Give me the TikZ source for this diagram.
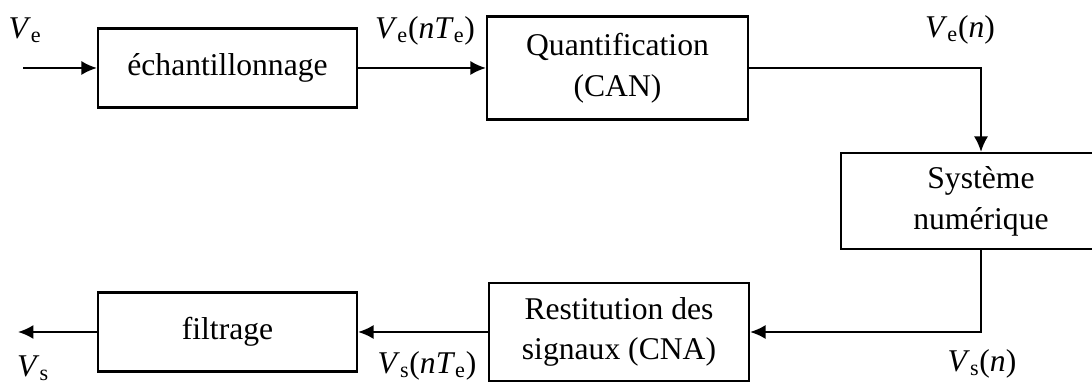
\documentclass[tikz,border=0pt]{standalone}
\usepackage{fontspec}
\setmainfont{Liberation Serif}
\usetikzlibrary{arrows.meta}
\tikzstyle{block} = [rectangle, minimum width=6.475cm, minimum height=1.975cm, inner sep=0pt, text centered, align=center, draw=black, line width=1.5pt]
\tikzstyle{sig} = [inner sep=0pt]
\tikzstyle{arrow} = [line width=1.5pt, ->, >={Latex[length=11pt,width=10pt]}]
\newcommand{\sv}[2]{\textit{#1}\textsubscript{#2}}

\begin{document}
\begin{tikzpicture}[x=0.025cm, y=-0.025cm, font=\fontsize{22.5}{29}\selectfont]
		\clip (0,0) rectangle (1092,385);
		\node [block] at (227.5,68) 								(samp)		{échantillonnage};
		\node [block, minimum width=6.525cm, minimum height=2.575cm] at (617.5,68) 	(quant)		{Quantification\\(CAN)};
		\node [block, minimum width=7cm, minimum height=2.4cm] at (981,201) 		(sysnum)	{Système\\numérique};
		\node [block, minimum width=6.5cm, minimum height=2.45cm] at (619,332) 		(restit)	{Restitution des\\signaux (CNA)};
		\node [block] at (227.5,332) 								(filtr)		{filtrage};
		\coordinate (in)  at (23,68);
		\coordinate (out) at (18,332);

		\node [sig] at (25,30)   (ve)	{\sv{V}{e}};
		\node [sig] at (425,31)  (vent)	{\sv{V}{e}(\textit{n}\sv{T}{e})};
		\node [sig] at (960,30)  (ven)	{\sv{V}{e}(\textit{n})};
		\node [sig] at (982,364) (vsn)	{\sv{V}{s}(\textit{n})};
		\node [sig] at (427,366) (vsnt)	{\sv{V}{s}(\textit{n}\sv{T}{e})};
		\node [sig] at (33,368)  (vs)	{\sv{V}{s}};

		\draw [arrow] (in) -- (samp);
		\draw [arrow] (samp) -- (quant);
		\draw [arrow] (quant.east) -| (sysnum.north);
		\draw [arrow] (sysnum.south) |- (restit.east);
		\draw [arrow] (restit) -- (filtr);
		\draw [arrow] (filtr) -- (out);
	\end{tikzpicture}
\end{document}
